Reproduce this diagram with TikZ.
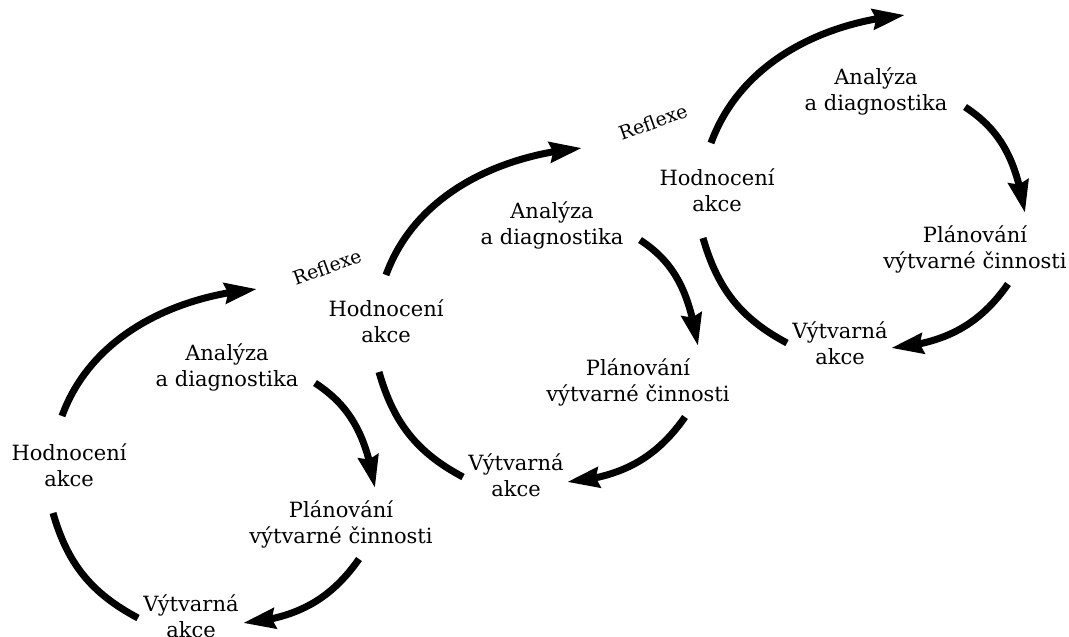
\documentclass[tikz,border=0pt]{standalone}
\usepackage{fontspec}
\setmainfont{DejaVu Serif}
\usetikzlibrary{arrows.meta,bending}
\begin{document}
\begin{tikzpicture}[x=1pt,y=-1pt,
  lbl/.style={align=center,inner sep=0pt,font=\fontsize{21}{26}\selectfont},
  rfl/.style={inner sep=0pt,font=\fontsize{19}{23}\selectfont,rotate=20},
  arr/.style={line width=7pt,-{Stealth[length=32pt,width=20pt,inset=3pt]}},
  ln/.style={line width=7pt}]
\useasboundingbox (0,0) rectangle (1069,637);
% cycle 1
\node[lbl] (H1) at (69,465) {Hodnocení\\akce};
\node[lbl] (A1) at (227,367) {Analýza\\a diagnostika};
\node[lbl] (P1) at (341,524) {Plánování\\výtvarné činnosti};
\node[lbl] (V1) at (191,616) {Výtvarná\\akce};
\coordinate (r1s) at (62,416); \coordinate (r1e) at (257,289);
\coordinate (a1s) at (315,383); \coordinate (a1e) at (375,488);
\coordinate (p1s) at (359,559); \coordinate (p1e) at (243,623);
\coordinate (v1s) at (138,618); \coordinate (v1e) at (53,513);
% cycle 2
\node[lbl] (H2) at (386,321) {Hodnocení\\akce};
\node[lbl] (A2) at (552,225) {Analýza\\a diagnostika};
\node[lbl] (P2) at (638,382) {Plánování\\výtvarné činnosti};
\node[lbl] (V2) at (516,475) {Výtvarná\\akce};
\node[rfl] (R2) at (327,267) {Reflexe};
\coordinate (r2s) at (386,275); \coordinate (r2e) at (582,148);
\coordinate (a2s) at (640,240); \coordinate (a2e) at (698,346);
\coordinate (p2s) at (685,417); \coordinate (p2e) at (567,482);
\coordinate (v2s) at (463,477); \coordinate (v2e) at (379,372);
% cycle 3
\node[lbl] (H3) at (717,190) {Hodnocení\\akce};
\node[lbl] (A3) at (876,91) {Analýza\\a diagnostika};
\node[lbl] (P3) at (975,249) {Plánování\\výtvarné činnosti};
\node[lbl] (V3) at (840,343) {Výtvarná\\akce};
\node[rfl] (R3) at (653,122) {Reflexe};
\coordinate (r3s) at (711,143); \coordinate (r3e) at (905,15);
\coordinate (a3s) at (965,107); \coordinate (a3e) at (1025,213);
\coordinate (p3s) at (1008,284); \coordinate (p3e) at (891,348);
\coordinate (v3s) at (787,343); \coordinate (v3e) at (703,238);
\foreach \i in {1,2,3}{
  \draw[arr] (r\i s) to[out=70,in=185,looseness=0.93] (r\i e);
  \draw[arr] (a\i s) to[out=-33,in=100] (a\i e);
  \draw[arr] (p\i s) to[out=-125,in=5] (p\i e);
  \draw[ln] (v\i s) to[out=152,in=-74] (v\i e);
}
\end{tikzpicture}
\end{document}
